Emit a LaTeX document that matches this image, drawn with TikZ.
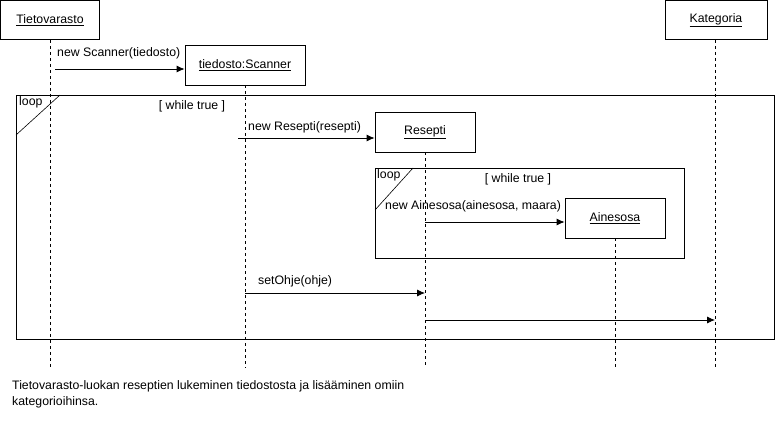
\documentclass[tikz,border=0pt]{standalone}
\usepackage{fontspec}
\setmainfont{Liberation Sans}
\usetikzlibrary{arrows.meta}
\begin{document}
\begin{tikzpicture}[x=1pt,y=-1pt, font=\fontsize{12.3}{16}\selectfont,
  obj/.style={draw, fill=white, line width=0.8pt, minimum width=100pt, minimum height=40pt, inner sep=0pt},
  life/.style={dash pattern=on 3pt off 3pt, line width=0.7pt},
  msg/.style={-{Latex[length=8pt,width=7pt]}, line width=0.8pt},
  fragment/.style={draw, line width=0.8pt},
  lbl/.style={anchor=west, inner sep=0pt}]
\useasboundingbox (0,0) rectangle (775,423);
\fill[white] (0,0) rectangle (775,423);

% lifeline end points
\coordinate (e1) at (50,368);
\coordinate (e2) at (245,368);
\coordinate (e3) at (425,368);
\coordinate (e4) at (615,368);
\coordinate (e5) at (715,368);

% objects (placed first so lifelines can refer to them)
\node[obj, minimum width=99pt, minimum height=39pt] (tv) at (50,20) {\underline{Tietovarasto}};
\node[obj, minimum width=120pt] (sc) at (245,65) {\underline{tiedosto:Scanner}};
\node[obj] (re) at (425,132) {\underline{Resepti}};
\node[obj] (ai) at (615,218) {\underline{Ainesosa}};
\node[obj, minimum width=102pt, minimum height=39pt] (ka) at (716,20) {\underline{Kategoria}};

% lifelines
\draw[life] (tv.south) -- (e1);
\draw[life] (sc.south) -- (e2);
\draw[life] (re.south) -- (e3);
\draw[life] (ai.south) -- (e4);
\draw[life] (ka.south -| e5) -- (e5);

% outer loop fragment
\draw[fragment] (16,95) rectangle (774,339);
\draw[line width=0.6pt] (60,95) -- (16,135);
\node[lbl] (l1) at (19,102) {loop};
\node (g1) at (192,106) {[ while true ]};

% inner loop fragment
\draw[fragment] (375,168) rectangle (684,258);
\draw[line width=0.6pt] (413,168) -- (375,210);
\node[lbl] (l2) at (377,175) {loop};
\node (g2) at (518,179) {[ while true ]};

% redraw objects on top
\node[obj, minimum width=99pt, minimum height=39pt] at (tv) {\underline{Tietovarasto}};
\node[obj, minimum width=120pt] at (sc) {\underline{tiedosto:Scanner}};
\node[obj] at (re) {\underline{Resepti}};
\node[obj] at (ai) {\underline{Ainesosa}};
\node[obj, minimum width=102pt, minimum height=39pt] at (ka) {\underline{Kategoria}};

% messages
\coordinate (m1) at (55,69);
\draw[msg] (m1) -- (sc.west |- m1);
\node[lbl] (t1) at (57,53) {new Scanner(tiedosto)};

\coordinate (m2) at (238,138);
\draw[msg] (m2) -- (re.west |- m2);
\node[lbl] (t2) at (248,127) {new Resepti(resepti)};

\coordinate (m3) at (425,222);
\draw[msg] (m3) -- (ai.west |- m3);
\node[lbl] (t3) at (385,206) {new Ainesosa(ainesosa, maara)};

\coordinate (m4) at (245,293);
\coordinate (m4e) at (425,293);
\draw[msg] (m4) -- (m4e);
\node[lbl] (t4) at (258,281) {setOhje(ohje)};

\coordinate (m5) at (425,320);
\coordinate (m5e) at (715,320);
\draw[msg] (m5) -- (m5e);

% caption
\node[lbl] (cap1) at (12,386) {Tietovarasto-luokan reseptien lukeminen tiedostosta ja lisääminen omiin};
\node[lbl] (cap2) at (12,402) {kategorioihinsa.};
\end{tikzpicture}
\end{document}
